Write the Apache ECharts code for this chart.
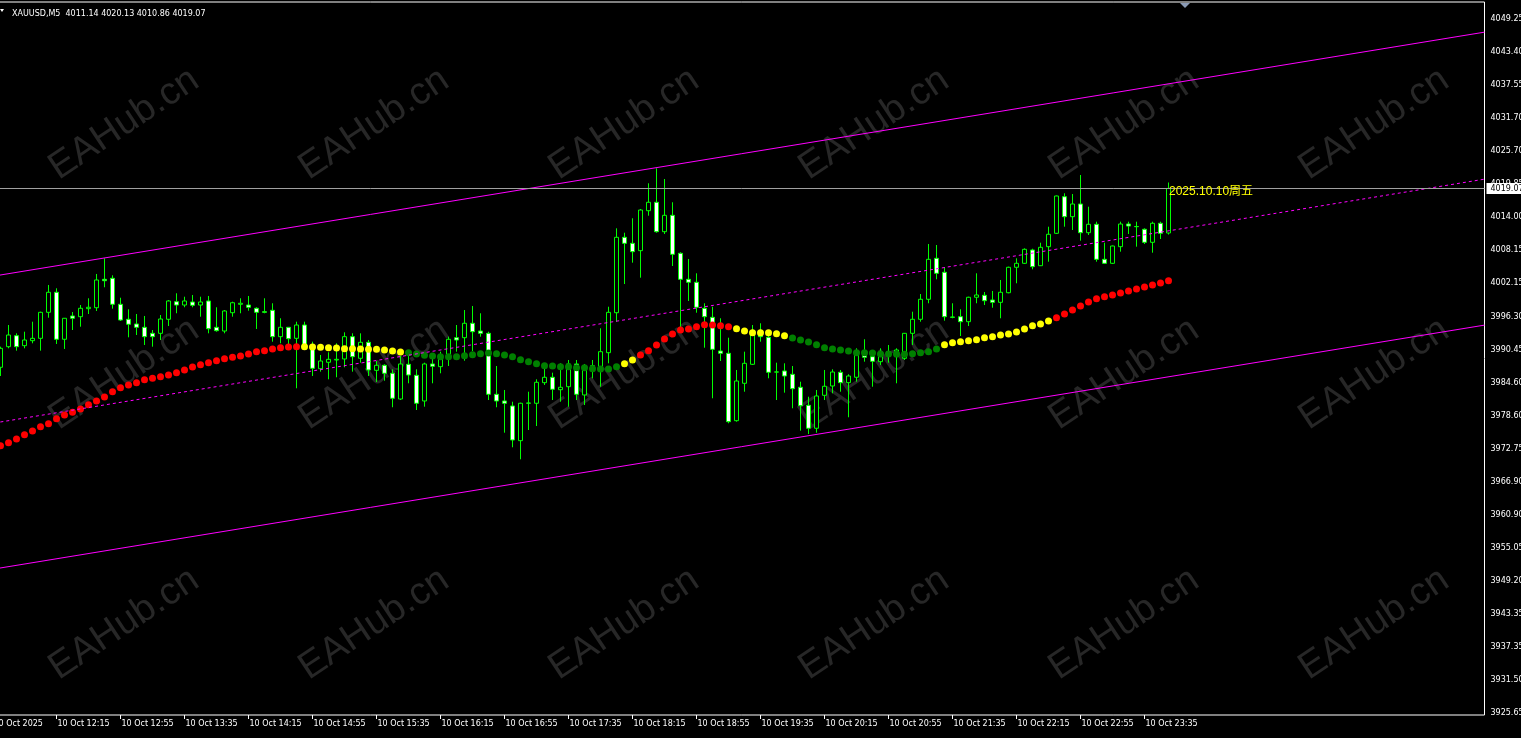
<!DOCTYPE html>
<html>
<head>
<meta charset="utf-8">
<script src="https://cdn.jsdelivr.net/npm/echarts@6/dist/echarts.min.js"></script>
<style>
html,body{margin:0;padding:0;background:#000;overflow:hidden}
#c{width:1521px;height:738px}
</style>
</head>
<body>
<div id="c"></div>
<script>
// ---------------- data ----------------
const symbolName = 'XAUUSD';
const timeframe = 'M5';
const firstCategoryTime = [11, 35];   // first slot on the time axis (10 Oct 11:35)
const categoryCount = 187;            // slots on the time axis (incl. empty right-side shift)
const firstBarSlot = 1;               // candles start at 11:40

// candles: [open, high, low, close]
const candles = [
[3987.22,3990.89,3985.67,3990.60],[3990.89,3994.75,3990.60,3992.97],[3992.85,3993.27,3990.18,3990.89],[3991.07,3993.56,3990.60,3992.08],
[3991.96,3995.34,3991.49,3992.38],[3992.38,3997.12,3990.18,3997.01],[3997.01,4001.88,3996.05,4000.58],[4000.58,4001.29,3991.37,3992.21],
[3992.21,3996.00,3990.48,3995.95],[3996.36,3997.07,3993.86,3995.95],[3996.23,3998.31,3994.45,3997.73],[3997.66,3999.51,3996.71,3997.91],
[3997.83,4003.84,3997.25,4002.77],[4002.89,4006.63,4001.47,4002.64],[4003.07,4003.60,3997.66,3998.44],[3998.44,3999.61,3995.47,3995.64],
[3995.77,3997.55,3992.56,3994.88],[3994.93,3996.71,3992.97,3994.34],[3994.34,3996.36,3991.19,3992.67],[3993.27,3993.86,3990.89,3992.67],
[3993.27,3996.53,3992.08,3995.82],[3995.77,3999.20,3994.57,3999.03],[3998.90,4000.40,3996.84,3998.31],[3998.31,3999.79,3997.91,3999.03],
[3998.85,4000.10,3997.91,3998.26],[3998.31,3999.79,3996.23,3998.85],[3999.03,3999.92,3993.27,3994.09],[3994.34,3997.91,3993.56,3993.74],
[3993.68,3997.42,3993.27,3997.25],[3996.94,3998.90,3996.23,3998.72],[3998.44,3999.51,3996.84,3998.62],[3998.31,3999.92,3997.30,3997.91],
[3997.73,3997.91,3994.04,3997.01],[3997.12,3999.51,3996.84,3997.01],[3997.37,3998.62,3991.78,3992.67],[3992.67,3995.95,3991.49,3994.34],
[3994.34,3994.40,3990.89,3992.31],[3992.38,3995.34,3983.48,3994.75],[3994.75,3995.34,3990.30,3990.89],[3990.78,3991.78,3985.67,3987.04],
[3986.97,3989.41,3986.44,3988.34],[3988.11,3989.89,3985.08,3988.64],[3988.52,3991.49,3985.44,3988.64],[3988.70,3993.45,3987.22,3992.67],
[3992.67,3993.27,3986.44,3989.11],[3988.82,3993.27,3988.04,3991.67],[3991.67,3992.08,3985.67,3986.74],[3986.68,3988.34,3984.60,3987.58],
[3987.58,3987.75,3984.83,3986.15],[3986.15,3986.86,3980.10,3981.70],[3981.57,3989.23,3981.39,3987.81],[3987.75,3989.41,3984.37,3985.85],
[3985.79,3986.86,3979.61,3980.81],[3981.22,3988.04,3980.20,3987.81],[3987.81,3989.36,3984.37,3987.40],[3987.33,3990.00,3986.15,3988.93],
[3988.93,3992.67,3987.45,3992.21],[3992.49,3994.75,3990.00,3992.08],[3992.49,3997.42,3988.39,3995.06],[3995.06,3998.14,3990.12,3993.56],
[3993.68,3996.84,3992.67,3993.27],[3993.27,3993.56,3981.39,3982.41],[3982.41,3987.45,3980.10,3981.22],[3981.22,3983.18,3975.57,3980.81],
[3980.33,3981.09,3972.97,3974.27],[3974.15,3980.91,3970.83,3980.81],[3980.81,3982.87,3976.05,3980.86],[3980.81,3985.08,3976.76,3984.55],
[3984.48,3986.92,3984.07,3985.44],[3985.44,3986.26,3981.39,3983.30],[3983.23,3987.93,3981.09,3983.66],[3983.76,3988.52,3980.20,3987.81],
[3987.81,3988.52,3981.39,3982.41],[3982.29,3987.81,3980.50,3987.45],[3986.74,3988.52,3985.26,3987.50],[3987.33,3994.16,3983.76,3990.00],
[3989.82,3998.01,3987.93,3997.01],[3996.94,4011.97,3995.34,4010.37],[4010.37,4011.19,4002.05,4009.30],[4009.30,4013.76,4005.85,4007.81],
[4007.99,4015.41,4003.18,4015.23],[4015.11,4019.99,4014.22,4016.61],[4016.61,4022.66,4011.19,4011.37],[4011.37,4020.75,4010.96,4014.29],
[4014.29,4016.61,4005.26,4007.34],[4007.52,4007.70,3994.16,4002.89],[4002.89,4006.51,3999.03,4002.36],[4002.36,4003.96,3996.94,3997.91],
[3997.73,3998.62,3990.71,3996.23],[3996.12,3998.01,3981.70,3990.42],[3990.12,3995.95,3988.34,3989.71],[3989.71,3992.49,3977.25,3977.53],
[3977.71,3986.74,3977.53,3984.78],[3984.37,3990.00,3982.87,3987.93],[3987.75,3994.75,3987.63,3993.27],[3993.38,3995.06,3991.78,3992.67],
[3992.56,3992.97,3985.26,3986.33],[3986.40,3988.04,3981.39,3986.36],[3986.56,3987.93,3982.70,3985.67],[3985.97,3987.45,3979.92,3983.41],
[3983.66,3984.65,3975.93,3980.38],[3980.45,3981.98,3975.34,3976.36],[3976.36,3983.18,3975.57,3982.11],[3982.23,3986.74,3981.39,3983.84],
[3983.89,3986.86,3982.59,3986.38],[3986.33,3986.74,3982.87,3984.48],[3984.48,3985.97,3978.32,3985.67],[3985.44,3990.60,3984.65,3989.82],
[3989.41,3992.21,3988.22,3989.00],[3989.11,3990.00,3983.76,3988.29],[3988.22,3990.60,3987.63,3989.41],[3989.41,3991.19,3988.04,3990.00],
[3989.11,3990.60,3984.37,3990.30],[3988.82,3993.33,3988.52,3993.27],[3993.27,3997.12,3991.19,3995.77],[3995.77,4000.27,3995.34,3999.33],
[3999.33,4009.18,3998.62,4006.45],[4006.63,4009.00,4002.89,4003.96],[4004.14,4005.03,3995.52,3996.23],[3996.18,3998.62,3995.95,3996.12],
[3996.23,3997.55,3992.79,3995.34],[3995.34,3999.79,3994.57,3999.69],[3999.69,4003.96,3998.62,4000.10],[4000.04,4000.63,3998.31,3999.08],
[3999.20,4000.81,3997.83,3998.79],[3998.79,4002.77,3995.95,4000.58],[4000.50,4005.14,4000.40,4005.03],[4005.03,4006.63,4002.18,4005.74],
[4005.74,4008.41,4005.62,4008.23],[4008.11,4008.34,4004.67,4005.14],[4005.31,4009.41,4005.26,4008.59],[4008.70,4012.26,4006.03,4010.91],
[4011.08,4017.80,4010.96,4017.73],[4017.60,4018.21,4012.26,4014.04],[4014.04,4018.08,4011.67,4016.30],[4016.30,4021.47,4009.77,4011.19],
[4011.19,4015.82,4010.78,4012.69],[4012.69,4013.15,4006.03,4006.45],[4006.45,4009.41,4005.62,4005.74],[4005.74,4008.90,4005.62,4008.82],
[4008.70,4013.15,4007.81,4012.74],[4012.74,4013.15,4010.96,4012.38],[4012.30,4013.15,4008.70,4012.26],[4011.80,4011.97,4009.18,4009.48],
[4009.48,4013.15,4007.63,4012.87],[4012.87,4013.15,4010.07,4011.08],[4011.14,4020.13,4010.86,4019.07]
];

// moving-average indicator (one dot per bar)
const maValues = [
3973.26,3973.79,3974.45,3975.22,3975.87,3976.64,3977.17,3978.06,3978.72,3979.20,
3979.79,3980.56,3981.22,3981.93,3982.87,3983.59,3984.07,3984.48,3985.01,3985.26,
3985.55,3985.85,3986.26,3986.74,3987.27,3987.68,3988.04,3988.39,3988.75,3989.00,
3989.23,3989.59,3990.00,3990.18,3990.48,3990.71,3990.83,3990.89,3990.89,3990.85,
3990.80,3990.71,3990.66,3990.53,3990.50,3990.48,3990.45,3990.42,3990.30,3990.12,
3989.94,3989.82,3989.59,3989.36,3989.23,3989.11,3989.11,3989.11,3989.28,3989.46,
3989.64,3989.77,3989.64,3989.41,3989.11,3988.57,3988.22,3987.86,3987.50,3987.45,
3987.33,3987.33,3987.15,3987.15,3986.95,3986.92,3986.92,3987.33,3987.86,3988.52,
3989.41,3990.18,3991.19,3992.26,3993.15,3993.86,3994.04,3994.45,3994.81,3994.75,
3994.63,3994.45,3994.09,3993.68,3993.38,3993.38,3993.38,3993.20,3992.85,3992.44,
3992.08,3991.72,3991.24,3990.71,3990.48,3990.30,3990.12,3989.82,3989.82,3989.77,
3989.59,3989.59,3989.59,3989.53,3989.64,3989.82,3990.00,3990.48,3991.24,3991.60,
3991.78,3991.96,3992.13,3992.49,3992.67,3992.97,3993.15,3993.51,3994.04,3994.63,
3994.93,3995.47,3996.05,3996.71,3997.42,3998.14,3998.85,3999.44,3999.79,4000.10,
4000.45,4000.81,4001.16,4001.52,4001.88,4002.23,4002.64
];
// indicator state, as runs of [state, number of bars]
const maStateRuns = [['up',38],['flat',13],['down',27],['flat',2],['up',12],['flat',7],['down',19],['flat',14],['up',15]];

// price-axis tick labels (top to bottom)
const yTickLabels = ['4049.25','4043.40','4037.55','4031.70','4025.70','4019.85','4014.00','4008.15','4002.15','3996.30','3990.45',
  '3984.60','3978.60','3972.75','3966.90','3960.90','3955.05','3949.20','3943.35','3937.35','3931.50','3925.65'];
// time-axis tick labels (every 8th slot)
const xTickLabels = ['10 Oct 2025','10 Oct 12:15','10 Oct 12:55','10 Oct 13:35','10 Oct 14:15','10 Oct 14:55','10 Oct 15:35',
  '10 Oct 16:15','10 Oct 16:55','10 Oct 17:35','10 Oct 18:15','10 Oct 18:55','10 Oct 19:35','10 Oct 20:15','10 Oct 20:55',
  '10 Oct 21:35','10 Oct 22:15','10 Oct 22:55','10 Oct 23:35'];
const xTickEvery = 8;

// trend channel (slot index, price)
const channelUpper  = [[-0.5, 4003.31], [186.5, 4046.91]];
const channelMiddle = [[-0.5, 3977.13], [186.5, 4020.73]];
const channelLower  = [[-0.5, 3951.13], [186.5, 3994.73]];

const priceMin = 3925.29, priceMax = 4052.28;
const dateNote = '2025.10.10周五';
const dateNotePrice = 4018.55;
const watermarkText = 'EAHub.cn';

// ---------------- build ----------------
const pad = n => (n < 10 ? '0' : '') + n;
const categories = [];
for (let i = 0; i < categoryCount; i++) {
  const m = firstCategoryTime[0] * 60 + firstCategoryTime[1] + 5 * i;
  categories.push(pad(Math.floor(m / 60) % 24) + ':' + pad(m % 60));
}
const last = candles[candles.length - 1];
const lastSlot = firstBarSlot + candles.length - 1;

const stateColor = { up: '#ff0000', flat: '#ffff00', down: '#008000' };
const maStates = [];
maStateRuns.forEach(([s, n]) => { for (let i = 0; i < n; i++) maStates.push(s); });

const candleData = candles.map((c, k) => [firstBarSlot + k, c[0], c[3], c[2], c[1]]);
const maData = maValues.map((v, k) => ({ value: [firstBarSlot + k, v], itemStyle: { color: stateColor[maStates[k]], opacity: 1 } }));

const showTick = (idx) => idx % xTickEvery === 0 && idx / xTickEvery < xTickLabels.length;
const axisFont = '"DejaVu Sans", Tahoma, sans-serif';

const watermarks = [];
for (let r = 0; r < 3; r++) {
  for (let c = 0; c < 6; c++) {
    watermarks.push({
      type: 'text', x: 124 + 250 * c, y: 124 + 250 * r, rotation: 0.588, z: 0, silent: true,
      style: { text: watermarkText, fill: '#272727', font: '38px "Liberation Sans", Arial, sans-serif',
               textAlign: 'center', textVerticalAlign: 'middle' }
    });
  }
}

const chart = echarts.init(document.getElementById('c'), null, { renderer: 'canvas' });
chart.setOption({
  backgroundColor: '#000000',
  animation: false,
  title: {
    text: symbolName + ',' + timeframe + '  ' + last.map(v => v.toFixed(2)).join(' '),
    left: 7, top: 5,
    textStyle: { color: '#ffffff', fontSize: 8, fontWeight: 'normal', fontFamily: axisFont }
  },
  graphic: watermarks.concat([
    { type: 'polygon', z: 10, silent: true, shape: { points: [[1180, 3], [1190, 3], [1185, 8]] }, style: { fill: '#8a9ab5' } },
    { type: 'polygon', z: 10, silent: true, shape: { points: [[0, 9], [4, 9], [2, 12]] }, style: { fill: '#ffffff' } }
  ]),
  grid: [
    { left: -11.5, width: 1496, top: 2, height: 713, show: true, borderColor: '#ffffff', borderWidth: 1,
      backgroundColor: 'transparent', containLabel: false, outerBoundsMode: 'none' },
    { left: -11.5, width: 1496, top: 19, height: 694, show: false, containLabel: false, outerBoundsMode: 'none' }
  ],
  xAxis: [
    {
      gridIndex: 0, type: 'category', data: categories, boundaryGap: true,
      axisLine: { show: false },
      axisTick: { show: true, alignWithLabel: true, interval: showTick, length: 4, lineStyle: { color: '#ffffff' } },
      axisLabel: {
        interval: showTick, align: 'left', margin: 5, padding: [0, 0, 0, 1],
        color: '#ffffff', fontSize: 8, fontFamily: axisFont, hideOverlap: false,
        formatter: (v, idx) => showTick(idx) ? xTickLabels[idx / xTickEvery] : ''
      },
      splitLine: { show: false }
    },
    { gridIndex: 0, type: 'value', min: -0.5, max: categoryCount - 0.5, show: false },
    { gridIndex: 1, type: 'value', show: false }
  ],
  yAxis: [
    { gridIndex: 0, type: 'value', min: priceMin, max: priceMax, show: false, splitLine: { show: false } },
    {
      gridIndex: 1, type: 'category', data: yTickLabels, inverse: true, boundaryGap: false, position: 'right',
      axisLine: { show: false },
      axisTick: { show: true, length: 4, lineStyle: { color: '#ffffff' } },
      axisLabel: { interval: 0, margin: 6, color: '#ffffff', fontSize: 8, fontFamily: axisFont },
      splitLine: { show: false }
    }
  ],
  series: [
    {
      type: 'candlestick', xAxisIndex: 0, yAxisIndex: 0, z: 2,
      data: candleData, encode: { x: 0, y: [1, 2, 3, 4] },
      barWidth: 4,
      itemStyle: {
        color: '#000000', color0: '#ffffff',
        borderColor: '#00ff00', borderColor0: '#00ff00', borderColorDoji: '#00ff00', borderWidth: 1
      },
      markLine: {
        silent: true, symbol: ['none', 'none'], animation: false,
        data: [{ yAxis: last[3] }],
        lineStyle: { color: '#a0a0a0', width: 1, type: 'solid' },
        label: {
          show: true, position: 'end', distance: 2, formatter: last[3].toFixed(2),
          color: '#000000', backgroundColor: '#ffffff', fontSize: 8, fontFamily: axisFont, padding: [2, 3, 1, 4]
        }
      },
      markPoint: {
        silent: true, symbol: 'circle', symbolSize: 1, itemStyle: { color: 'transparent' }, animation: false,
        data: [{ coord: [lastSlot, dateNotePrice] }],
        label: {
          show: true, position: 'right', distance: 0, formatter: dateNote,
          color: '#ffff00', fontSize: 12, fontFamily: '"Liberation Sans", "Noto Sans CJK SC", sans-serif'
        }
      }
    },
    {
      type: 'scatter', xAxisIndex: 0, yAxisIndex: 0, z: 3, symbol: 'circle', symbolSize: 7, silent: true,
      itemStyle: { opacity: 1 },
      data: maData
    },
    {
      type: 'line', xAxisIndex: 1, yAxisIndex: 0, z: 4, data: channelUpper, symbol: 'none', silent: true,
      lineStyle: { color: '#ff00ff', width: 1, type: 'solid' }
    },
    {
      type: 'line', xAxisIndex: 1, yAxisIndex: 0, z: 4, data: channelMiddle, symbol: 'none', silent: true,
      lineStyle: { color: '#ff00ff', width: 1, type: [3, 3] }
    },
    {
      type: 'line', xAxisIndex: 1, yAxisIndex: 0, z: 4, data: channelLower, symbol: 'none', silent: true,
      lineStyle: { color: '#ff00ff', width: 1, type: 'solid' }
    }
  ]
});
</script>
</body>
</html>
